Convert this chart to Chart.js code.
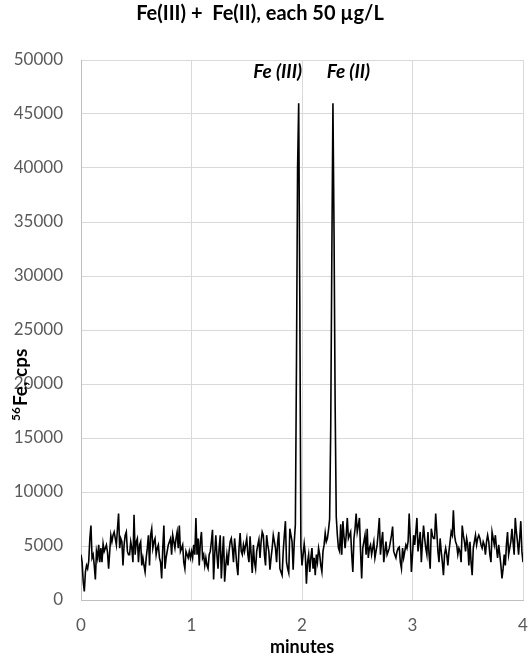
<!DOCTYPE html>
<html><head><meta charset="utf-8">
<script src="https://cdn.jsdelivr.net/npm/chart.js@4"></script>
<style>html,body{margin:0;padding:0;background:#fff;} #wrap{width:529px;height:663px;position:relative}</style>
</head><body><div id="wrap"><canvas id="c" width="529" height="663"></canvas></div>
<script>
const chartTitle = "Fe(III) +  Fe(II), each 50 \u00b5g/L";
const xAxisTitle = "minutes";
const yAxisTitleSup = "56";
const yAxisTitleMain = "Fe, cps";
const xTickValues = [0, 1, 2, 3, 4];
const yTickValues = [0, 5000, 10000, 15000, 20000, 25000, 30000, 35000, 40000, 45000, 50000];
const startMinute = 0;
const stepMinute = 0.01;
// 56Fe counts per second, one reading every 0.01 min
const cpsMinute0 = [
4200,3500,1700,800,2600,3200,2900,3600,5700,6900,
3900,4200,3200,1900,4500,3900,5100,3500,4800,3500,
5200,4500,4800,5100,4400,2900,4500,6000,5400,6000,
6300,5700,5100,6600,8000,4800,5700,5400,3200,5100,
6000,6300,4500,4200,4200,5400,4800,3500,7900,4200,
5400,5700,3500,5100,5400,3200,3900,3200,2600,3900,
4800,6000,3200,6000,6600,4800,5400,5700,4200,4800,
5100,3900,3500,2000,4800,6900,2900,3900,4500,5100,
5400,5700,4200,6000,5400,4800,5700,6300,4800,6900,
4500,4800,5100,3500,2900,4500,4200,3900,4500,3900];
const cpsMinute1 = [
4500,3900,5100,4200,7600,4200,5700,3200,5400,6300,
3900,4200,3200,3900,3200,2900,4200,4500,5400,6500,
1900,4200,6000,4200,2900,4800,6000,2000,4200,5900,
1700,3200,4200,3200,4500,5400,5700,4800,3500,5700,
4500,3200,2300,4800,6200,4500,4200,5100,4500,5100,
5700,4200,3500,5900,4200,2500,5100,3500,2900,4500,
5100,5600,3900,5400,6300,6000,4200,3200,6000,5100,
4500,2800,3900,4800,6000,5400,4800,3500,5400,6300,
2900,2600,2300,4500,6000,7300,3500,2900,2500,6600,
6000,5400,2800,5400,7000,22000,40000,46000,28000,5000];
const cpsMinute2 = [
3200,4200,5200,4200,1500,3500,4200,2600,3900,4800,
2900,3900,2300,4200,3500,4800,4200,3200,2600,4500,
5100,6200,5400,5700,6500,7500,16000,32000,46000,34000,
18000,7700,6000,4800,4500,7000,4200,7300,5900,4800,
6000,7600,5700,6000,6300,4200,2600,5700,6600,8000,
6300,6900,7600,4500,2000,4800,5400,6000,4200,6600,
3900,4800,5100,4200,4800,5400,3900,4500,5100,6300,
7600,4200,5400,6300,3500,4500,5400,4200,4500,4800,
5400,6000,6800,4500,4200,3900,4500,4800,4900,3500,
2900,4800,3900,4500,5100,4800,5400,8000,5700,2600];
const cpsMinute3 = [
4200,6000,5100,6300,7600,4500,5400,6300,3500,5400,
6900,5700,4800,4200,6300,4200,2900,6600,6000,5700,
5700,8000,6300,4500,3500,5700,4500,3500,2300,4200,
4800,4200,3200,4500,5400,6300,6000,8300,6000,5400,
5100,4200,4800,4500,3500,6900,6000,5400,4500,5700,
5100,3200,5400,3500,2300,4800,5400,6000,5100,5700,
6000,5700,5100,4800,5400,5100,4200,5400,6000,5400,
4200,3500,6300,5700,5100,6000,4800,3900,5100,4200,
3200,2000,2900,4200,3200,5100,6300,4200,4800,5400,
6600,5400,4200,7600,6300,5400,4200,5700,7300,4500,
3500];
const peakLabels = ["Fe (III)", "Fe (II)"];
const peakLabelMinutes = [1.78, 2.42];
const peakLabelCps = [48900, 48900];

const allCps = cpsMinute0.concat(cpsMinute1, cpsMinute2, cpsMinute3);
const points = allCps.map((v, i) => ({ x: +(startMinute + i * stepMinute).toFixed(2), y: v }));

const textPlugin = {
  id: 'texts',
  afterDraw(chart) {
    const ctx = chart.ctx;
    const xs = chart.scales.x, ys = chart.scales.y, ca = chart.chartArea;
    ctx.save();
    ctx.fillStyle = '#000';
    ctx.font = 'bold 20px Lato';
    ctx.textAlign = 'center';
    ctx.textBaseline = 'middle';
    ctx.fillText(chartTitle, 260, 14);
    ctx.font = 'bold 18px Lato';
    ctx.fillText(xAxisTitle, (ca.left + ca.right) / 2, 647);
    ctx.font = 'italic bold 19px Lato';
    peakLabels.forEach((t, i) => {
      ctx.fillText(t, xs.getPixelForValue(peakLabelMinutes[i]), ys.getPixelForValue(peakLabelCps[i]));
    });
    ctx.translate(27, 421);
    ctx.rotate(-Math.PI / 2);
    ctx.textAlign = 'left';
    ctx.textBaseline = 'alphabetic';
    ctx.font = 'bold 12px Lato';
    ctx.fillText(yAxisTitleSup, 0, -7);
    const w = ctx.measureText(yAxisTitleSup).width;
    ctx.font = 'bold 19px Lato';
    ctx.fillText(yAxisTitleMain, w + 1, 0);
    ctx.restore();
  }
};

new Chart(document.getElementById('c'), {
  type: 'line',
  data: { datasets: [{ data: points, borderColor: '#000', borderWidth: 1.6, pointRadius: 0, tension: 0, fill: false }] },
  options: {
    responsive: false, animation: false, devicePixelRatio: 1,
    layout: { padding: { top: 60, right: 6, left: 0, bottom: 0 } },
    plugins: { legend: { display: false }, tooltip: { enabled: false }, title: { display: false } },
    scales: {
      x: {
        type: 'linear', min: 0, max: 4,
        afterBuildTicks: s => { s.ticks = xTickValues.map(v => ({ value: v })); },
        afterFit: s => { s.height = 63; s.paddingLeft = 0; s.paddingRight = 0; },
        grid: { color: '#d9d9d9', drawTicks: false },
        border: { color: '#bfbfbf' },
        ticks: { padding: 15, color: '#595959', font: { family: 'Lato', size: 17 }, maxRotation: 0, callback: v => String(v) }
      },
      y: {
        min: 0, max: 50000,
        afterBuildTicks: s => { s.ticks = yTickValues.map(v => ({ value: v })); },
        afterFit: s => { s.width = 81; s.paddingTop = 0; s.paddingBottom = 0; },
        grid: { color: '#d9d9d9', drawTicks: false },
        border: { color: '#bfbfbf' },
        ticks: { padding: 18, color: '#595959', font: { family: 'Lato', size: 17 }, callback: v => String(v) }
      }
    }
  },
  plugins: [textPlugin]
});
</script></body></html>
